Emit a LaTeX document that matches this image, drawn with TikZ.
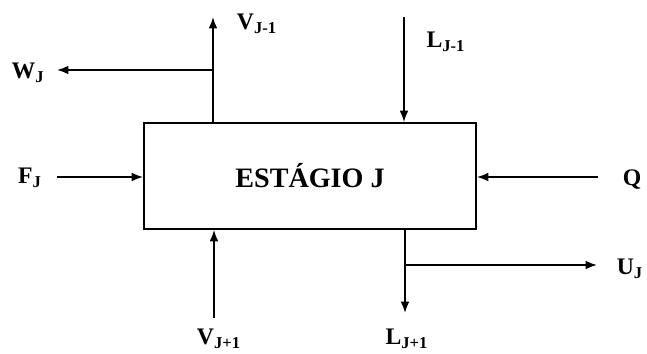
\documentclass[tikz,border=0pt]{standalone}
\usepackage{fontspec}
\setmainfont{Liberation Serif}
\usetikzlibrary{arrows.meta,positioning}

\begin{document}
\begin{tikzpicture}[
  x=0.02cm, y=-0.02cm,
  >={Latex[length=6.5pt,width=5pt]},
  font=\fontsize{13.5}{15}\selectfont\bfseries,
  stagebox/.style={draw, line width=1pt, minimum width=6.64cm, minimum height=2.12cm, inner sep=0pt},
  lbl/.style={inner sep=1pt},
  flow/.style={->, line width=1pt}
]
\useasboundingbox (0,0) rectangle (647,354);

\node[stagebox, font=\fontsize{16}{18}\selectfont\bfseries] (stage) at (310,176) {ESTÁGIO J};

% stream labels
\node[lbl] (vup) at (257,24) {V\textsubscript{J-1}};
\node[lbl] (lup) at (446,42) {L\textsubscript{J-1}};
\node[lbl] (wj) at (28,73) {W\textsubscript{J}};
\node[lbl] (fj) at (30,178) {F\textsubscript{J}};
\node[lbl] (q) at (632,180) {Q};
\node[lbl] (uj) at (630,269) {U\textsubscript{J}};
\node[lbl] (vdown) at (219,339) {V\textsubscript{J+1}};
\node[lbl] (ldown) at (407,339) {L\textsubscript{J+1}};

% free ends and branch points
\coordinate (vtop) at (213,17);
\coordinate (wsplit) at (213,70);
\coordinate (wend) at (57,70);
\coordinate (ltop) at (404,17);
\coordinate (fstart) at (57,177);
\coordinate (qstart) at (598,177);
\coordinate (vbot) at (214,318);
\coordinate (lbot) at (405,313);
\coordinate (usplit) at (405,265);
\coordinate (uend) at (597,265);

\draw[flow] (stage.north -| vtop) -- (vtop);
\draw[flow] (wsplit) -- (wend);
\draw[flow] (ltop) -- (stage.north -| ltop);
\draw[flow] (fstart) -- (stage.west |- fstart);
\draw[flow] (qstart) -- (stage.east |- qstart);
\draw[flow] (vbot) -- (stage.south -| vbot);
\draw[flow] (stage.south -| lbot) -- (lbot);
\draw[flow] (usplit) -- (uend);
\end{tikzpicture}
\end{document}
